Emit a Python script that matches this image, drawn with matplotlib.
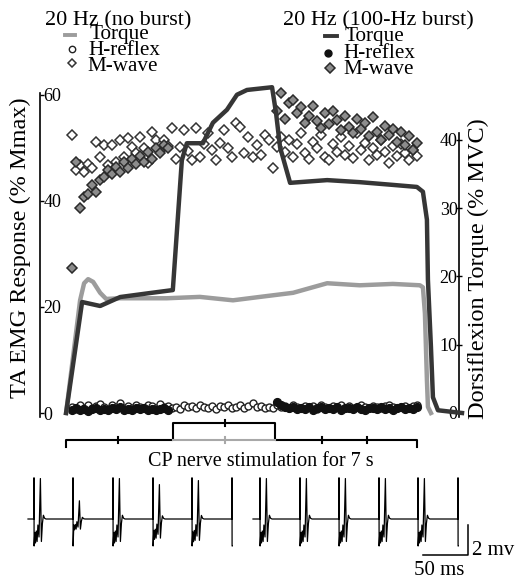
import numpy as np
import matplotlib
matplotlib.use('Agg')
import matplotlib.pyplot as plt
from matplotlib.lines import Line2D

plt.rcParams['font.family'] = ['Liberation Serif', 'DejaVu Serif']

# ---------------- data ----------------
# Dorsiflexion torque (% MVC), time in s
torque_nb_t = [0, 0.28, 0.36, 0.44, 0.54, 0.68, 0.80, 1.08, 2.01, 2.67, 3.33, 3.87, 4.53,
               4.87, 5.21, 5.86, 6.52, 7.06, 7.12, 7.16, 7.20, 7.22, 7.28]
torque_nb = [0, 16.5, 19.0, 19.6, 19.2, 17.6, 16.7, 16.8, 16.8, 17.0, 16.5, 17.0, 17.6,
             18.3, 19.0, 18.7, 18.9, 18.7, 18.4, 14.6, 4.8, 0.9, 0]
torque_b_t = [0, 0.32, 0.68, 1.08, 1.68, 2.13, 2.31, 2.41, 2.73, 2.93, 3.21, 3.41, 3.61,
              4.11, 4.19, 4.27, 4.47, 5.21, 5.86, 6.52, 7.00, 7.12, 7.20, 7.22, 7.28,
              7.32, 7.42, 7.90]
torque_b = [0, 16.25, 15.67, 16.98, 17.57, 18.0, 37.0, 39.5, 39.5, 42.5, 44.4, 46.6, 47.3,
            47.7, 43.9, 38.9, 33.7, 34.1, 33.8, 33.4, 33.1, 32.4, 28.3, 19.5, 9.7,
            2.3, 0.4, 0]

# M-wave (% Mmax), 20 Hz no burst (whole 7 s)
mwave_nb = [52.5, 45.8, 46.8, 45.5, 47.0, 46.2, 51.1, 48.3, 50.6, 46.8,
            50.6, 47.4, 51.5, 48.3, 51.9, 50.2, 49.0, 52.1, 50.0, 47.2,
            53.0, 51.5, 49.5, 51.5, 50.4, 53.8, 48.0, 50.2, 53.4, 49.5,
            47.7, 53.8, 48.3, 50.8, 52.8, 49.6, 47.7, 51.0, 53.4, 50.0,
            48.3, 54.7, 54.0, 49.0, 52.0, 48.3, 50.5, 48.7, 52.4, 51.5,
            46.2, 50.2, 52.0, 49.2, 51.5, 48.3, 50.8, 52.8, 49.0, 48.0,
            51.2, 50.0, 52.4, 48.3, 47.7, 50.8, 49.2, 52.0, 48.6, 50.4,
            48.1, 52.8, 49.6, 51.0, 47.8, 50.0, 48.6, 51.5, 49.2, 47.2,
            50.4, 48.5, 50.8, 49.0, 47.8, 49.6, 48.4]
# M-wave (% Mmax), 20 Hz with 100-Hz burst (before / after the burst)
mwave_b_pre = [27.4, 47.4, 38.7, 40.8, 41.3, 43.0, 41.7, 44.0, 44.5, 45.8,
               45.0, 46.5, 45.5, 47.4, 46.2, 48.0, 47.0, 48.5, 47.4, 49.2,
               48.0, 50.0, 49.0, 50.6, 50.0]
mwave_b_post = [57.0, 60.4, 55.5, 58.5, 59.0, 56.6, 57.7, 54.7, 56.0, 58.0,
                55.0, 53.8, 56.6, 54.5, 57.0, 55.2, 53.4, 56.0, 54.0, 52.8,
                55.5, 53.5, 54.7, 52.2, 55.8, 53.0, 51.6, 54.2, 52.4, 53.6,
                51.2, 53.0, 50.6, 52.2, 49.6, 51.0]
# H-reflex (% Mmax)
hrefl_nb = [1.2, 0.8, 1.5, 1.0, 1.6, 0.9, 1.3, 1.7, 1.1, 0.8,
            1.5, 1.2, 1.8, 1.0, 1.4, 0.9, 1.6, 1.2, 1.0, 1.5,
            1.3, 0.9, 1.7, 1.1, 1.4, 1.0, 1.2, 0.8, 1.5, 1.1,
            1.3, 0.9, 1.6, 1.2, 1.0, 1.4, 0.8, 1.3, 1.1, 1.5,
            0.9, 1.2, 1.6, 1.0, 1.3, 1.8, 1.1, 1.4, 0.9, 1.2,
            1.0, 1.5, 1.1, 1.3, 0.9, 1.6, 1.2, 1.0, 1.4, 1.1,
            1.3, 0.8, 1.5, 1.2, 1.0, 1.4, 1.1, 1.6, 0.9, 1.3,
            1.0, 1.2, 1.5, 1.1, 0.9, 1.4, 1.2, 1.0, 1.3, 1.6,
            1.1, 0.9, 1.2, 1.4, 1.0, 1.3, 1.5]
hrefl_b_pre = [0.6, 0.9, 0.5, 0.8, 0.4, 0.7, 1.0, 0.6, 0.8, 0.5,
               0.9, 0.7, 1.1, 0.6, 0.8, 0.5, 1.0, 0.7, 0.9, 0.6,
               0.8, 0.5, 0.7, 0.9, 0.6]
hrefl_b_post = [2.1, 1.6, 1.2, 0.9, 1.1, 0.7, 1.0, 0.8, 1.2, 0.6,
                0.9, 1.1, 0.7, 1.0, 0.8, 1.2, 0.6, 0.9, 1.0, 0.7,
                1.1, 0.8, 0.6, 1.0, 0.9, 0.7, 1.1, 0.8, 1.0, 0.6,
                0.9, 1.2, 0.7, 1.0, 0.8, 1.1]
first_pulse = 0.12      # s
sample_step = 0.08      # s between plotted responses
post_start = 4.20       # s

# stimulation bar (s)
stim_on, stim_off = 0.0, 7.0
burst_on, burst_off = 2.14, 4.16
stim_ticks = [1.04, 5.10, 6.00]
burst_tick = 3.17

# EMG traces: response onsets (ms) and M-wave size factors
emg_left_onsets = [0.0, 42.9, 86.9, 130.9, 173.8]
emg_left_last = 217.8
emg_left_scale = [1.0, 0.45, 1.0, 0.85, 0.95]
emg_right_onsets = [248.6, 292.6, 335.5, 379.5, 422.4]
emg_right_last = 466.4
emg_right_scale = [1.0, 1.0, 1.0, 1.0, 1.0]
resp_t = [0, 0, 0.1, 0.8, 1.5, 2.3, 3.1, 3.9, 5.0, 6.4, 7.4, 8.4, 9.4, 10.6, 12.0]
resp_mv = [0, 2.75, -1.8, -0.9, -1.6, -0.8, -1.5, -0.4, -1.2, 2.7, -1.5, -0.3, 0.25, 0.05, 0]

# ---------------- figure ----------------
W, H = 519, 580
fig = plt.figure(figsize=(W / 100, H / 100), dpi=100)


def fx(px):
    return px / W


def fy(py):
    return 1 - py / H


ax = fig.add_axes([fx(40), fy(420), fx(459) - fx(40), fy(75) - fy(420)])
ax.set_xlim(-0.52, 7.84)
ax.set_ylim(-1.32, 63.77)
axr = ax.twinx()
axr.set_ylim(-1.025, 49.49)

t_nb = first_pulse + sample_step * np.arange(len(mwave_nb))
t_pre = first_pulse + sample_step * np.arange(len(mwave_b_pre))
t_post = post_start + sample_step * np.arange(len(mwave_b_post))

dcol = '#333333'
DMS = 4.8
ax.plot(t_nb, mwave_nb, ls='none', marker='D', ms=DMS, mfc='white', mec=dcol, mew=1.1, zorder=3)
ax.plot(t_pre, mwave_b_pre, ls='none', marker='D', ms=DMS, mfc='#8c8c8c', mec='#2a2a2a', mew=1.1, zorder=4)
ax.plot(t_post, mwave_b_post, ls='none', marker='D', ms=DMS, mfc='#8c8c8c', mec='#2a2a2a', mew=1.1, zorder=4)
ax.plot(t_nb, hrefl_nb, ls='none', marker='o', ms=5.0, mfc='white', mec='#222222', mew=1.0, zorder=3)
ax.plot(t_pre, hrefl_b_pre, ls='none', marker='o', ms=5.6, mfc='#111111', mec='#111111', zorder=4)
ax.plot(t_post, hrefl_b_post, ls='none', marker='o', ms=5.6, mfc='#111111', mec='#111111', zorder=4)

axr.plot(torque_nb_t, torque_nb, color='#9c9c9c', lw=3.2, solid_joinstyle='round', zorder=2)
axr.plot(torque_b_t, torque_b, color='#363636', lw=3.2, solid_joinstyle='round', zorder=3,
         clip_on=False)

for a in (ax, axr):
    a.set_xticks([])
    for s in ('top', 'bottom'):
        a.spines[s].set_visible(False)
    a.patch.set_visible(False)
ax.spines['right'].set_visible(False)
axr.spines['left'].set_visible(False)
ax.spines['left'].set_bounds(-0.75, 60.4)
axr.spines['right'].set_bounds(-0.6, 41.0)
ax.spines['left'].set_linewidth(1.2)
axr.spines['right'].set_linewidth(1.2)

ax.set_yticks([0, 20, 40, 60])
ax.tick_params(axis='y', direction='in', length=3, width=1, pad=-2.5, labelsize=13)
for lab in ax.get_yticklabels():
    lab.set_horizontalalignment('left')
axr.set_yticks([0, 10, 20, 30, 40])
axr.tick_params(axis='y', direction='inout', length=5, width=1, pad=-3.5, labelsize=13)
for lab in axr.get_yticklabels():
    lab.set_horizontalalignment('right')

fig.text(fx(20), fy(248), 'TA EMG Response (% Mmax)', rotation=90, ha='center', va='center',
         fontsize=17.5)
fig.text(fx(478), fy(269), 'Dorsiflexion Torque (% MVC)', rotation=90, ha='center', va='center',
         fontsize=17.5)

# ---------------- legend ----------------
fig.text(fx(118), fy(25), '20 Hz (no burst)', ha='center', va='baseline', fontsize=16.0)
fig.text(fx(378), fy(25), '20 Hz (100-Hz burst)', ha='center', va='baseline', fontsize=16.0)
leg_fs = 15.2
fig.text(fx(90), fy(39), 'Torque', ha='left', va='baseline', fontsize=leg_fs)
fig.text(fx(88), fy(55), 'H-reflex', ha='left', va='baseline', fontsize=leg_fs)
fig.text(fx(87), fy(71), 'M-wave', ha='left', va='baseline', fontsize=leg_fs)
fig.text(fx(345), fy(41), 'Torque', ha='left', va='baseline', fontsize=leg_fs)
fig.text(fx(343), fy(58), 'H-reflex', ha='left', va='baseline', fontsize=leg_fs)
fig.text(fx(343), fy(74), 'M-wave', ha='left', va='baseline', fontsize=leg_fs)


def fig_line(xs, ys, **kw):
    fig.add_artist(Line2D([fx(v) for v in xs], [fy(v) for v in ys], transform=fig.transFigure, **kw))


fig_line([65, 75], [35, 35], color='#9c9c9c', lw=2.8)
fig_line([72], [49], ls='none', marker='o', ms=4.6, mfc='white', mec='#222222', mew=1.0)
fig_line([72], [63], ls='none', marker='D', ms=4.4, mfc='white', mec=dcol, mew=1.1)
fig_line([325, 337], [36, 36], color='#363636', lw=2.8)
fig_line([328], [53], ls='none', marker='o', ms=5.0, mfc='#111111', mec='#111111')
fig_line([330], [68], ls='none', marker='D', ms=4.6, mfc='#8c8c8c', mec='#2a2a2a', mew=1.1)

# ---------------- stimulation bar ----------------
sx = fig.add_axes([fx(40), fy(455), fx(459) - fx(40), 40 / H])
sx.set_xlim(-0.52, 7.84)
sx.set_ylim(-15, 25)
sx.axis('off')
blw = 1.5
sx.plot([stim_on, stim_on, burst_on, burst_on, burst_off, burst_off, stim_off, stim_off],
        [-7, 0, 0, 17, 17, 0, 0, -7], color='black', lw=blw)
sx.plot([burst_on, burst_off], [0, 0], color='#a8a8a8', lw=blw)
for tt in stim_ticks:
    sx.plot([tt, tt], [-3, 3], color='black', lw=blw)
sx.plot([burst_tick, burst_tick], [14, 20], color='black', lw=blw)
sx.plot([burst_tick, burst_tick], [-3, 3], color='#a8a8a8', lw=blw)
fig.text(fx(261), fy(462), 'CP nerve stimulation for 7 s', ha='center', va='center', fontsize=14.5)

# ---------------- EMG traces ----------------
ex = fig.add_axes([0, 0, 1, 110 / H])
ex.set_xlim(-37.4, 533.5)
ex.set_ylim(-4.07, 3.27)
ex.axis('off')


def trace(onsets, scales, last, start):
    xs, ys = [start], [0.0]
    for on, sc in zip(onsets, scales):
        for i, (rt, rv) in enumerate(zip(resp_t, resp_mv)):
            xs.append(on + rt * 1.1)
            ys.append(rv if i < 3 else rv * sc)
    xs += [last, last, last + 0.1, last + 0.2]
    ys += [0.0, 2.75, -1.8, -1.8]
    ex.plot(xs, ys, color='black', lw=0.9)


trace(emg_left_onsets, emg_left_scale, emg_left_last, -6.6)
trace(emg_right_onsets, emg_right_scale, emg_right_last, 240.9)

ex.plot([427.9, 477.4, 477.4], [-2.4, -2.4, -0.4], color='black', lw=1.1)
ex.text(481.8, -2.4, '2 mv', ha='left', va='baseline', fontsize=15)
ex.text(445.5, -3.73, '50 ms', ha='center', va='baseline', fontsize=15)

fig.savefig('out.png', dpi=100)
